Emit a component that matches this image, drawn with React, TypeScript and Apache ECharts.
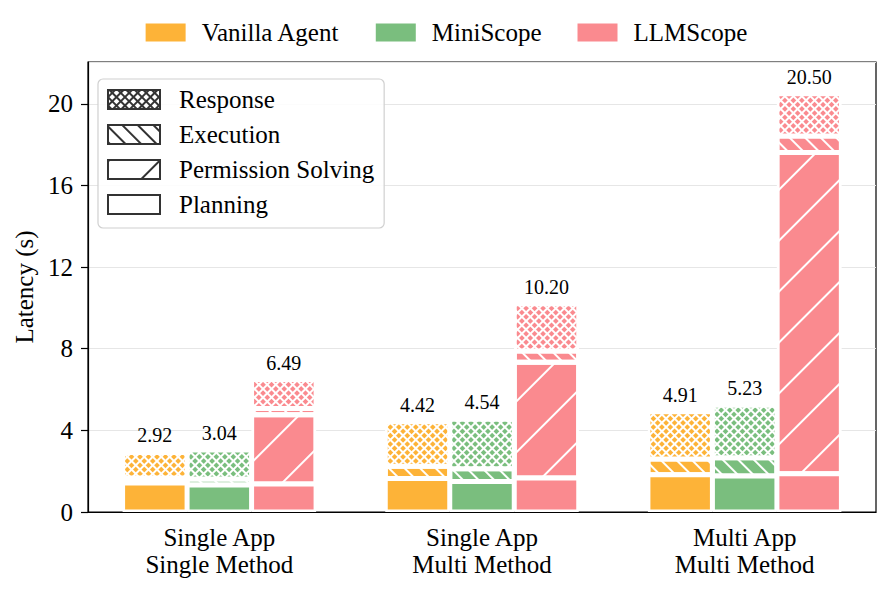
import React, { useEffect, useRef } from 'react';
import * as echarts from 'echarts';

const categories = ['Single App\nSingle Method', 'Single App\nMulti Method', 'Multi App\nMulti Method'];
const methods = ['Vanilla Agent', 'MiniScope', 'LLMScope'];
const colors = ['#FDB338', '#7ABE7E', '#FA8A8F'];
const components = ['Response', 'Execution', 'Permission Solving', 'Planning'];

const vanillaPlanning = [1.42, 1.64, 1.82];
const vanillaPermission = [0, 0, 0];
const vanillaExecution = [0.25, 0.60, 0.78];
const vanillaResponse = [1.25, 2.18, 2.31];

const miniPlanning = [1.32, 1.50, 1.76];
const miniPermission = [0, 0, 0];
const miniExecution = [0.30, 0.62, 0.90];
const miniResponse = [1.42, 2.42, 2.57];

const llmPlanning = [1.37, 1.66, 1.87];
const llmPermission = [3.40, 5.68, 15.75];
const llmExecution = [0.30, 0.55, 0.80];
const llmResponse = [1.42, 2.31, 2.08];

const vanillaTotals = [2.92, 4.42, 4.91];
const miniTotals = [3.04, 4.54, 5.23];
const llmTotals = [6.49, 10.20, 20.50];

const yTicks = [0, 4, 8, 12, 16, 20];

const FONT = '"Liberation Serif", "Times New Roman", serif';

const crossDecal = (c: string) => ({
  symbol: 'rect', symbolSize: 1, symbolKeepAspect: false, color: c,
  dashArrayX: [4, 1.5], dashArrayY: [4, 1.5], rotation: Math.PI / 4,
});
// "\\" hatch
const backDecal = (c: string) => ({
  symbol: 'rect', symbolSize: 1, symbolKeepAspect: false, color: c,
  dashArrayX: [10, 0], dashArrayY: [1.8, 8.2], rotation: Math.PI / 4,
});
// "/" hatch
const fwdDecal = (c: string) => ({
  symbol: 'rect', symbolSize: 1, symbolKeepAspect: false, color: c,
  dashArrayX: [10, 0], dashArrayY: [2, 34], rotation: -Math.PI / 4,
});

export default function App() {
  const ref = useRef<HTMLDivElement>(null);
  useEffect(() => {
    if (!ref.current) return;
    const chart = echarts.init(ref.current, null, { renderer: 'svg' });
    const methodData = [
      { planning: vanillaPlanning, permission: vanillaPermission, execution: vanillaExecution, response: vanillaResponse, totals: vanillaTotals },
      { planning: miniPlanning, permission: miniPermission, execution: miniExecution, response: miniResponse, totals: miniTotals },
      { planning: llmPlanning, permission: llmPermission, execution: llmExecution, response: llmResponse, totals: llmTotals },
    ];
    const barCommon = { type: 'bar', barWidth: 64.5, barGap: '0%' };
    const series: any[] = [];
    methodData.forEach((m, i) => {
      const border = { borderColor: '#fff', borderWidth: 2.5 };
      series.push({
        ...barCommon, name: methods[i], stack: methods[i], data: m.planning,
        itemStyle: { color: colors[i], ...border },
      });
      if (m.permission.some((v) => v > 0)) {
        series.push({
          ...barCommon, name: methods[i] + ' Permission Solving', stack: methods[i],
          data: m.permission.map((v) => (v > 0 ? v : '-')),
          itemStyle: { color: colors[i], ...border, decal: fwdDecal('#fff') },
        });
      }
      series.push({
        ...barCommon, name: methods[i] + ' Execution', stack: methods[i], data: m.execution,
        itemStyle: { color: colors[i], ...border, decal: backDecal('#fff') },
      });
      series.push({
        ...barCommon, name: methods[i] + ' Response', stack: methods[i], data: m.response,
        itemStyle: { color: '#fff', ...border, decal: crossDecal(colors[i]) },
        label: {
          show: true, position: 'top', distance: 7, color: '#000', fontSize: 20, fontFamily: FONT,
          formatter: (p: any) => m.totals[p.dataIndex].toFixed(2),
        },
      });
    });
    const dark = '#333';
    const dummyStyles: any = {
      'Response': { color: dark, borderColor: dark, borderWidth: 1.5, decal: crossDecal('#fff') },
      'Execution': { color: '#fff', borderColor: dark, borderWidth: 1.5, decal: backDecal(dark) },
      'Permission Solving': { color: '#fff', borderColor: dark, borderWidth: 1.5, decal: fwdDecal(dark) },
      'Planning': { color: '#fff', borderColor: dark, borderWidth: 1.5 },
    };
    components.forEach((c) => {
      series.push({ type: 'bar', name: c, xAxisIndex: 1, yAxisIndex: 1, data: [], itemStyle: dummyStyles[c] });
    });

    chart.setOption({
      animation: false,
      textStyle: { fontFamily: FONT },
      grid: { left: 88, right: 17, top: 62, bottom: 79, show: true, borderColor: '#000', borderWidth: 1.2 },
      legend: [
        {
          data: methods, top: 15, left: 'center', itemWidth: 40, itemHeight: 18, itemGap: 36,
          selectedMode: false, icon: 'rect', itemStyle: { borderWidth: 0 },
          textStyle: { fontSize: 25, fontFamily: FONT, color: '#000', padding: [0, 0, 0, 11] },
        },
        {
          data: components, orient: 'vertical', left: 98, top: 79, itemWidth: 52, itemHeight: 19, itemGap: 10,
          padding: [8, 10, 11, 9], borderColor: '#d0d0d0', borderWidth: 1.2, borderRadius: 5,
          backgroundColor: 'rgba(255,255,255,0.85)', selectedMode: false, icon: 'rect',
          textStyle: { fontSize: 25, lineHeight: 24, fontFamily: FONT, color: '#000', padding: [0, 0, 0, 14] },
        },
      ],
      xAxis: [
        {
          type: 'category', data: categories, gridIndex: 0,
          axisLine: { lineStyle: { color: '#000', width: 1.2 } },
          axisTick: { alignWithLabel: true, length: 6, lineStyle: { color: '#000', width: 1.2 } },
          axisLabel: { fontSize: 25, lineHeight: 27, color: '#000', fontFamily: FONT, margin: 12 },
        },
        { type: 'category', data: ['x'], show: false, gridIndex: 0 },
      ],
      yAxis: [
        {
          type: 'value', min: 0, max: 22.05, interval: 4,
          name: 'Latency (s)', nameLocation: 'middle', nameGap: 48,
          nameTextStyle: { fontSize: 25, color: '#000', fontFamily: FONT },
          axisLine: { show: true, lineStyle: { color: '#000', width: 1.2 } },
          axisTick: { show: true, length: 7, lineStyle: { color: '#000', width: 1.2 } },
          axisLabel: {
            fontSize: 25, color: '#000', fontFamily: FONT, margin: 15, showMaxLabel: false,
            formatter: (v: number) => (yTicks.includes(v) ? String(v) : ''),
          },
          splitLine: { show: true, lineStyle: { color: '#e6e6e6', width: 1.2 } },
        },
        { type: 'value', show: false, min: 0, max: 1 },
      ],
      series,
    });
    return () => chart.dispose();
  }, []);
  return <div ref={ref} style={{ position: 'fixed', left: 0, top: 0, width: 893, height: 591, background: '#fff' }} />;
}
